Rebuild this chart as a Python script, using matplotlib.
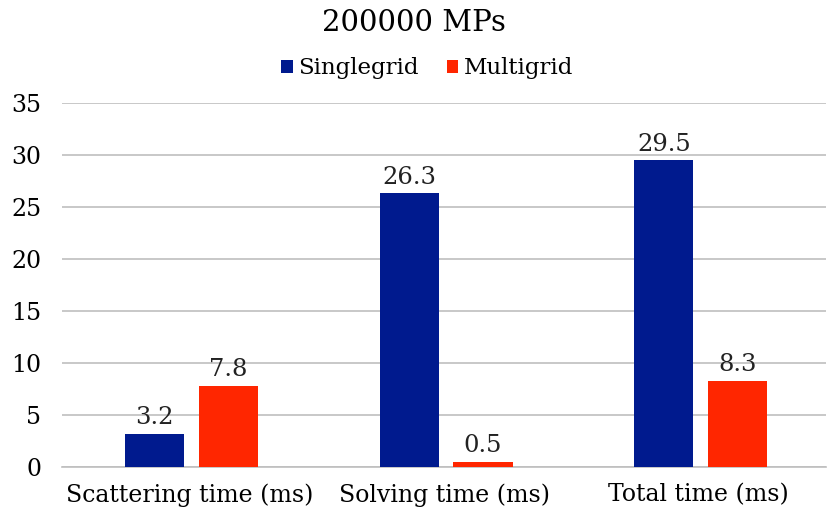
import matplotlib.pyplot as plt
import numpy as np

plt.rcParams['font.family'] = ['DejaVu Serif']

categories = ['Scattering time (ms)', 'Solving time (ms)', 'Total time (ms)']
singlegrid = [3.2, 26.3, 29.5]
multigrid = [7.8, 0.5, 8.3]
yticks = [0, 5, 10, 15, 20, 25, 30, 35]

blue = '#001A8E'
red = '#FF2600'

fig = plt.figure(figsize=(8.28, 5.11), dpi=100)
ax = fig.add_axes([0.0749, 0.0861, 0.9227, 0.7123])

x = np.arange(len(categories))
w = 0.232
off = 0.145
b1 = ax.bar(x - off + 0.008, singlegrid, w, color=blue, label='Singlegrid', zorder=3)
b2 = ax.bar(x + off + 0.008, multigrid, w, color=red, label='Multigrid', zorder=3)

for bars, vals in [(b1, singlegrid), (b2, multigrid)]:
    for b, v in zip(bars, vals):
        ax.text(b.get_x() + b.get_width() / 2, v + 0.45, f'{v}', ha='center', va='bottom',
                fontsize=17.5, color='#222222')

ax.set_xlim(-0.5, 2.5)
ax.set_ylim(0, 35)
ax.set_yticks(yticks)
ax.set_xticks(x)
ax.set_xticklabels(categories, fontsize=17)
ax.tick_params(axis='y', labelsize=17, length=0, pad=15)
ax.tick_params(axis='x', length=0, pad=12)
ax.grid(axis='y', color='#BFBFBF', linewidth=1.2, zorder=0)
for s in ['top', 'right', 'left']:
    ax.spines[s].set_visible(False)
ax.spines['bottom'].set_color('#BFBFBF')
ax.spines['bottom'].set_linewidth(1.2)

fig.text(0.5, 0.955, '200000 MPs', ha='center', va='center', fontsize=21)
fig.legend(loc='center', bbox_to_anchor=(0.516, 0.866), ncol=2, frameon=False, fontsize=16.5,
           handlelength=0.5, handleheight=0.5, handletextpad=0.25, columnspacing=1.2)

fig.savefig('out.png', dpi=100)
